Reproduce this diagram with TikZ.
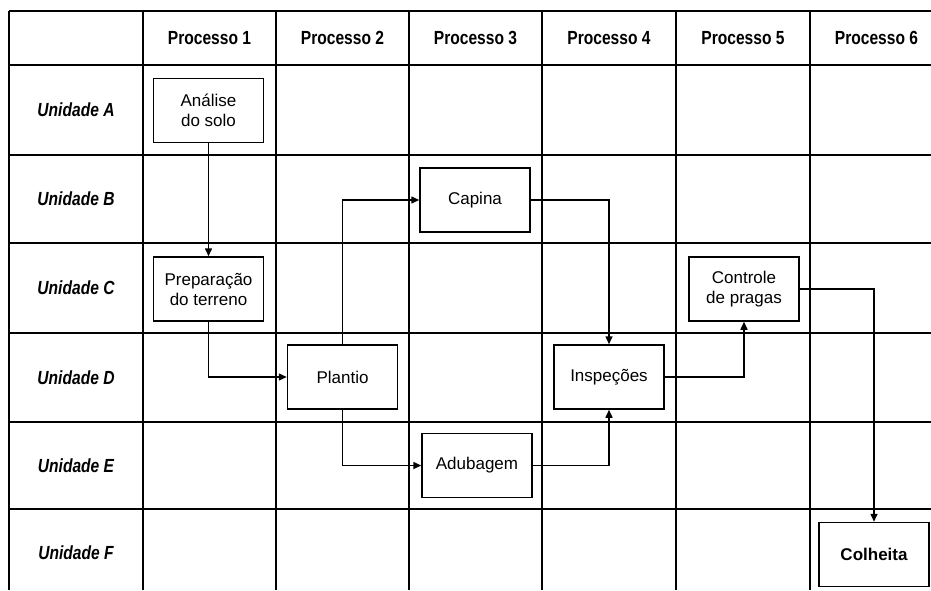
\documentclass[tikz,border=0pt]{standalone}
\usepackage{fontspec}
\setmainfont{Liberation Sans}
\newfontfamily\condfont[FakeStretch=0.82]{Liberation Sans}
\usetikzlibrary{arrows.meta, positioning}
\tikzset{
    header/.style={font=\condfont\bfseries\fontsize{19}{21}\selectfont},
    unit/.style={font=\condfont\bfseries\itshape\fontsize{19}{21}\selectfont},
    task/.style={rectangle, draw=black, line width=1.5pt, fill=white, minimum width=110pt, minimum height=64pt, align=center, inner sep=2pt, font=\fontsize{17}{20}\selectfont},
    arrow/.style={line width=1.5pt, ->, >={Triangle[length=8pt,width=7pt]}}
}

\begin{document}
\begin{tikzpicture}[x=1pt, y=-1pt]
    \useasboundingbox (0,0) rectangle (931,590);

    % Grid
    \foreach \y in {11, 65, 155, 243, 333, 422, 509} {
        \draw[line width=1.4pt] (9,\y) -- (931,\y);
    }
    \foreach \x in {9, 143, 276, 409, 542, 676, 810} {
        \draw[line width=1.4pt] (\x,11) -- (\x,590);
    }

    % Column headers
    \foreach \x/\n in {209.5/1, 342.5/2, 475.5/3, 609/4, 743/5, 876.5/6} {
        \node[header] (proc\n) at (\x,38) {Processo \n};
    }

    % Row labels
    \foreach \y/\u in {110/A, 199/B, 288/C, 377.5/D, 465.5/E, 553/F} {
        \node[unit] (unid\u) at (76,\y) {Unidade \u};
    }

    % Tasks
    \node[task] (analise) at (208.5,110.5) {Análise\\do solo};
    \node[task] (preparo) at (208.5,289) {Preparação\\do terreno};
    \node[task] (plantio) at (342.5,377) {Plantio};
    \node[task] (capina) at (475,200) {Capina};
    \node[task] (adubagem) at (477,465.5) {Adubagem};
    \node[task] (inspecoes) at (609,377) {Inspeções};
    \node[task] (controle) at (744,289) {Controle\\de pragas};
    \node[task, font=\bfseries\fontsize{17}{20}\selectfont] (colheita) at (874,554.5) {Colheita};

    % Flow
    \draw[arrow] (analise) -- (preparo);
    \draw[arrow] (preparo.south) |- (plantio.west);
    \draw[arrow] (plantio.north) |- (capina.west);
    \draw[arrow] (plantio.south) |- (adubagem.west);
    \draw[arrow] (capina.east) -| (inspecoes.north);
    \draw[arrow] (adubagem.east) -| (inspecoes.south);
    \draw[arrow] (inspecoes.east) -| (controle.south);
    \draw[arrow] (controle.east) -| (colheita.north);
\end{tikzpicture}
\end{document}
